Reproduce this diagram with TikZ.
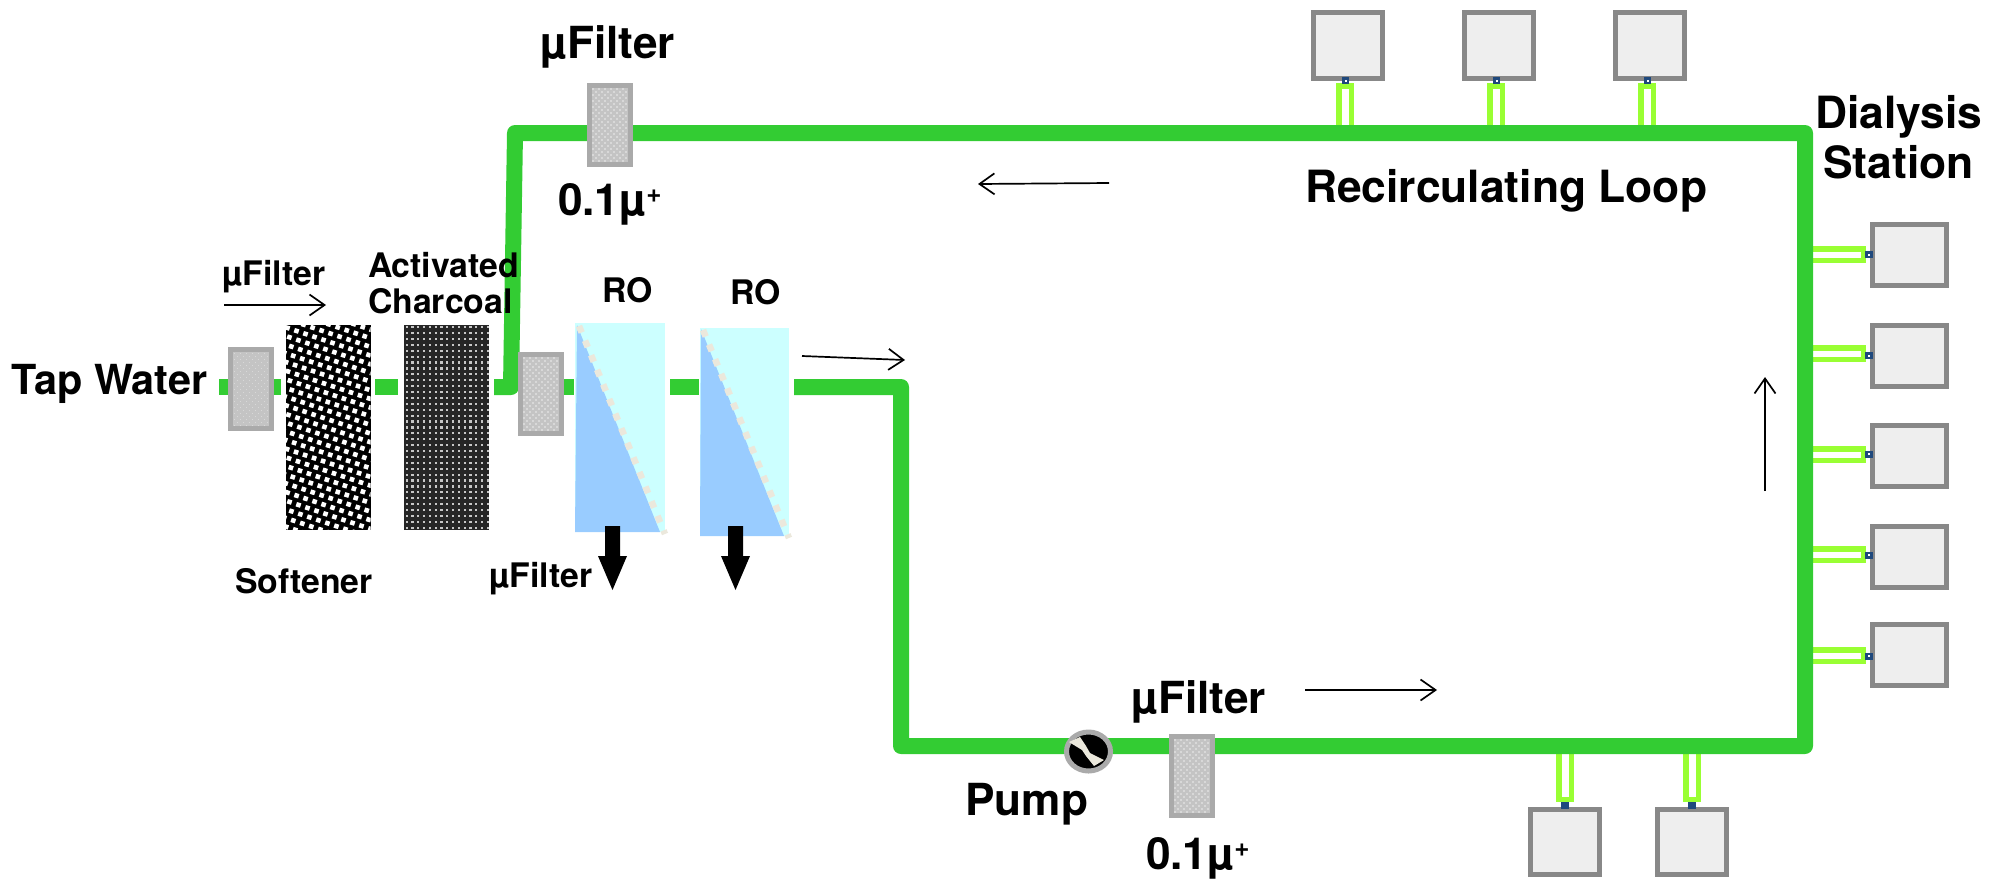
\documentclass[tikz,border=0pt]{standalone}
\usepackage{fontspec}
\setmainfont{TeX Gyre Heros}
\usetikzlibrary{arrows.meta,shapes.geometric,calc}
\definecolor{pipeg}{HTML}{33CC33}
\definecolor{lime}{HTML}{99FF33}
\definecolor{fgray}{HTML}{AAAAAA}
\definecolor{fback}{HTML}{C4C4C4}
\definecolor{fdot}{HTML}{D8D8D8}
\definecolor{sgray}{HTML}{888888}
\definecolor{sfill}{HTML}{EEEEEE}
\definecolor{rolight}{HTML}{CCFFFF}
\definecolor{roblue}{HTML}{99CCFF}
\definecolor{cream}{HTML}{EBE8DC}
\definecolor{navy}{HTML}{1F497D}
\newcommand{\ftxt}[1]{\fontsize{#1}{#1}\selectfont\bfseries}
\tikzset{
  x=1pt,y=-1pt,
  pipe/.style={draw=pipeg,line width=16pt,line join=round},
  flow/.style={draw=black,line width=1.7pt,-{Straight Barb[length=15pt,width=21pt,line width=1.7pt]}},
  lab/.style={anchor=base west,inner sep=0pt,outer sep=0pt,text=black},
  filterbox/.style={draw=fgray,fill=fback,line width=5pt,inner sep=0pt,outer sep=0pt,
    minimum width=41pt,minimum height=79pt,
    path picture={
      \foreach \i in {0,...,13}{\foreach \j in {0,...,27}{
        \pgfmathtruncatemacro{\k}{mod(\i+\j,2)}
        \ifnum\k=0
          \fill[fdot] ($(path picture bounding box.north west)+(\i*3,\j*3)$) rectangle ++(1.6,1.6);
        \fi}}
    }},
  station/.style={draw=sgray,fill=sfill,line width=5pt,inner sep=0pt,outer sep=0pt},
  tube/.style={draw=lime,fill=white,line width=5.5pt,inner sep=0pt,outer sep=0pt},
  port/.style={fill=navy,inner sep=0pt,outer sep=0pt,minimum width=7.5pt,minimum height=7pt},
  rodash/.style={draw=cream,line width=6.5pt,dash pattern=on 7pt off 8.8pt},
  drain/.style={fill=black,draw=none},
  media/.style={inner sep=0pt,outer sep=0pt,minimum width=85pt,minimum height=205pt}
}
\begin{document}
\begin{tikzpicture}
\useasboundingbox (0,0) rectangle (2004,879);
% ---- tubes to stations (under the loop)
\foreach \n/\cx in {t1/1345,t2/1496,t3/1647}{
  \node[tube,minimum width=12.5pt,minimum height=44.5pt] (\n) at (\cx,108) {};
}
\foreach \n/\cx in {b1/1565,b2/1692}{
  \node[tube,minimum width=12.5pt,minimum height=50.5pt] (\n) at (\cx,774) {};
}
\foreach \n/\cy in {r1/254.5,r2/353.5,r3/454.5,r4/554.5,r5/655.5}{
  \node[tube,minimum width=55.5pt,minimum height=11.5pt] (\n) at (1835.5,\cy) {};
}
% ---- stations
\foreach \n/\cx in {st1/1348,st2/1499,st3/1650}{
  \node[station,minimum width=69pt,minimum height=66pt] (\n) at (\cx,45.5) {};
}
\foreach \n/\cx in {sb1/1565,sb2/1692}{
  \node[station,minimum width=69pt,minimum height=65pt] (\n) at (\cx,842) {};
}
\foreach \n/\cy in {sr1/255,sr2/356,sr3/456,sr4/557,sr5/655}{
  \node[station,minimum width=74pt,minimum height=61pt] (\n) at (1909.5,\cy) {};
}
% ---- ports
\foreach \cx in {1345.5,1496.5,1647.5}{\node[port] at (\cx,80.5) {};\fill[white] (\cx-1,79.5) rectangle ++(2,2);}
\foreach \cx in {1565,1692}{\node[port] at (\cx,805.5) {};}
\foreach \cy in {254.5,355.5,454,555,656}{\node[port] at (1869,\cy) {};\fill[white] (1868,\cy-1) rectangle ++(2,2);}
% ---- coordinates of the pipework
\coordinate (inA) at (219,387);  \coordinate (inB) at (281,387);
\coordinate (m1A) at (375,387);  \coordinate (m1B) at (398,387);
\coordinate (loopS) at (494,387);
\coordinate (c1) at (511,387);   \coordinate (c2) at (515,133);
\coordinate (c3) at (1805,133);  \coordinate (c4) at (1805,746);
\coordinate (c5) at (901,746);   \coordinate (c6) at (901,387);
\coordinate (roOut) at (794,387);
\coordinate (r1A) at (563,387);  \coordinate (r1B) at (574,387);
\coordinate (r2A) at (670,387);  \coordinate (r2B) at (699,387);
\draw[pipe] (inA) -- (inB);
\draw[pipe] (m1A) -- (m1B);
\draw[pipe] (r1A) -- (r1B);
\draw[pipe] (r2A) -- (r2B);
\draw[pipe] (loopS) -- (c1) -- (c2) -- (c3) -- (c4) -- (c5) -- (c6) -- (roOut);
% ---- softener
\node[media,fill=black] (soft) at (328,427.5) {};
\begin{scope}
  \clip (soft.north west) rectangle (soft.south east);
  \foreach \j in {-8,...,24}{\foreach \i in {-8,...,14}{
    \fill[white,shift={({286+\i*9+\j*1.9},{325+\i*3+\j*9.3})},rotate=-18] (0,0) rectangle (4.6,4.6);
  }}
\end{scope}
% ---- charcoal
\node[media,fill=black!85] (char) at (446.5,427.5) {};
\begin{scope}
  \clip (char.north west) rectangle (char.south east);
  \foreach \j in {0,...,34}{\foreach \i in {0,...,14}{
    \fill[white!78!black] ({405.5+\i*5.8},{326+\j*5.9}) rectangle ++(2.2,2.2);
  }}
\end{scope}
% ---- filters
\node[filterbox] (f1) at (251,389) {};
\node[filterbox] (f2) at (540.5,393.5) {};
\node[filterbox] (f3) at (609.5,124.5) {};
\node[filterbox] (f4) at (1191.5,775.5) {};
% ---- RO modules
\node[fill=rolight,inner sep=0pt,outer sep=0pt,minimum width=90pt,minimum height=209pt] (ro1) at (620,427.5) {};
\fill[roblue] (577,325) -- (575,532) -- (660,532) -- cycle;
\draw[rodash] (579,326) -- (665,534);
\node[fill=rolight,inner sep=0pt,outer sep=0pt,minimum width=89pt,minimum height=208pt] (ro2) at (744.5,432) {};
\fill[roblue] (701,329) -- (700,536) -- (784,536) -- cycle;
\draw[rodash] (703,330) -- (789,538);
% ---- drains
\fill[drain] (605,526) -- (620,526) -- (620,556) -- (627,556) -- (612.5,590) -- (598,556) -- (605,556) -- cycle;
\fill[drain] (728,526) -- (743,526) -- (743,556) -- (750,556) -- (735.5,590) -- (721,556) -- (728,556) -- cycle;
% ---- pump
\node[ellipse,draw=fgray,fill=black,line width=5pt,inner sep=0pt,outer sep=0pt,minimum width=44pt,minimum height=39pt] (pump) at (1088.5,751.5) {};
\fill[cream] (1069,742) -- (1080,737) -- (1086,746) -- (1090,753) -- (1104,760) -- (1094,766) -- (1086,756) -- (1082,750) -- cycle;
% ---- flow arrows
\coordinate (a1s) at (224,305);  \coordinate (a1e) at (326,305);
\coordinate (a2s) at (802,356);  \coordinate (a2e) at (905,360);
\coordinate (a3s) at (1109,183); \coordinate (a3e) at (978,184);
\coordinate (a4s) at (1305,690); \coordinate (a4e) at (1437,690);
\coordinate (a5s) at (1765,491); \coordinate (a5e) at (1765,377);
\draw[flow] (a1s) -- (a1e);
\draw[flow] (a2s) -- (a2e);
\draw[flow] (a3s) -- (a3e);
\draw[flow] (a4s) -- (a4e);
\draw[flow] (a5s) -- (a5e);
% ---- labels
\node[lab] (l1) at (12,394) {\ftxt{41.4}Tap Water};
\node[lab] (l2) at (222,285) {\ftxt{33.8}µFilter};
\node[lab] (l3) at (368,277) {\ftxt{33.8}Activated};
\node[lab] (l4) at (368,313) {\ftxt{33.8}Charcoal};
\node[lab] (l5) at (602,302) {\ftxt{33.8}RO};
\node[lab] (l6) at (730,304) {\ftxt{33.8}RO};
\node[lab] (l7) at (235,593) {\ftxt{33.8}Softener};
\node[lab] (l8) at (489,587) {\ftxt{33.8}µFilter};
\node[lab] (l9) at (540,58) {\ftxt{44.2}µFilter};
\node[lab] (l10) at (558,215) {\ftxt{44.2}0.1µ\raisebox{13pt}{\ftxt{26}+}};
\node[lab] (l11) at (1131,713) {\ftxt{44.2}µFilter};
\node[lab] (l12) at (1146,869) {\ftxt{44.2}0.1µ\raisebox{13pt}{\ftxt{26}+}};
\node[lab] (l13) at (965,815) {\ftxt{44.2}Pump};
\node[lab] (l14) at (1305,202) {\ftxt{44.4}Recirculating Loop};
\node[lab] (l15) at (1815,128) {\ftxt{44.4}Dialysis};
\node[lab] (l16) at (1823,178) {\ftxt{44.4}Station};
\end{tikzpicture}
\end{document}
